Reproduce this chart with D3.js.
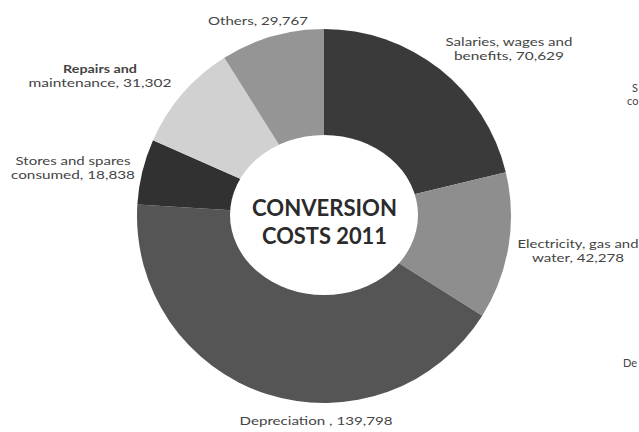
<!DOCTYPE html>
<html>
<head>
<meta charset="utf-8">
<script src="https://cdn.jsdelivr.net/npm/d3@7/dist/d3.min.js"></script>
<style>
  html, body { margin: 0; padding: 0; background: #fff; }
  svg { display: block; }
  text { font-family: Lato, "Open Sans", sans-serif; }
</style>
</head>
<body>
<svg id="chart" width="639" height="432"></svg>
<script>
// Conversion cost components, 2011 (clockwise from 12 o'clock)
const categories = [
  "Salaries, wages and benefits",
  "Electricity, gas and water",
  "Depreciation",
  "Stores and spares consumed",
  "Repairs and maintenance",
  "Others"
];
const values = [70629, 42278, 139798, 18838, 31302, 29767];
const sliceColors = ["#3a3a3a", "#8e8e8e", "#555555", "#313131", "#d1d1d1", "#959595"];

// Label lines for each slice
const labelLines = [
  ["Salaries, wages and", "benefits, 70,629"],
  ["Electricity, gas and", "water,  42,278"],
  ["Depreciation , 139,798"],
  ["Stores and spares", "consumed,  18,838"],
  ["Repairs and", "maintenance,  31,302"],
  ["Others, 29,767"]
];

const title = ["CONVERSION", "COSTS 2011"];

const svg = d3.select("#chart");
const cx = 324, cy = 216, outerR = 187;

const pie = d3.pie().sort(null).value(d => d)(values);
const arc = d3.arc().innerRadius(0).outerRadius(outerR);

const g = svg.append("g").attr("transform", `translate(${cx},${cy})`);
g.selectAll("path.slice")
  .data(pie)
  .join("path")
  .attr("class", "slice")
  .attr("d", arc)
  .attr("fill", (d, i) => sliceColors[i]);

// White centre (slightly oval)
g.append("ellipse")
  .attr("cx", 0).attr("cy", -1)
  .attr("rx", 94).attr("ry", 80)
  .attr("fill", "#fff");

// Centre title, two lines
const titleY = [215.5, 243.5];
const titleW = [145, 125];
title.forEach((t, i) => {
  svg.append("text")
    .attr("x", cx + 0.5).attr("y", titleY[i])
    .attr("text-anchor", "middle")
    .attr("font-size", 23.5)
    .attr("font-weight", 700)
    .attr("fill", "#2b2b2b")
    .attr("textLength", titleW[i])
    .attr("lengthAdjust", "spacingAndGlyphs")
    .text(t);
});

// Slice labels: centre x, first baseline, line widths
const labelPos = [
  { x: 509, y: 46, w: [127, 110] },
  { x: 578, y: 248, w: [121, 92] },
  { x: 316, y: 425, w: [153] },
  { x: 73, y: 165, w: [115, 124] },
  { x: 100, y: 73, w: [74, 143] },
  { x: 258, y: 25, w: [100] }
];

labelLines.forEach((lines, i) => {
  const p = labelPos[i];
  lines.forEach((line, j) => {
    svg.append("text")
      .attr("x", p.x).attr("y", p.y + j * 14)
      .attr("text-anchor", "middle")
      .attr("font-size", 11.5)
      .attr("font-weight", (i === 4 && j === 0) ? 700 : 400)
      .attr("fill", "#444")
      .attr("textLength", p.w[j])
      .attr("lengthAdjust", "spacingAndGlyphs")
      .text(line);
  });
});

// Fragments of the neighbouring chart's labels at the right edge
const sideLabels = [
  { x: 632, y: 92, t: "S" },
  { x: 627, y: 105, t: "co" },
  { x: 623, y: 367, t: "De" }
];
sideLabels.forEach(s => {
  svg.append("text")
    .attr("x", s.x).attr("y", s.y)
    .attr("font-size", 11)
    .attr("fill", "#444")
    .text(s.t);
});
</script>
</body>
</html>
